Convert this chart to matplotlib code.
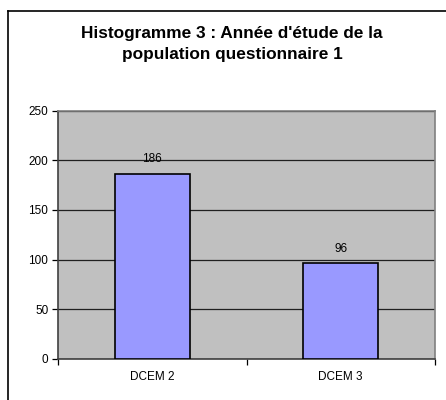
import matplotlib.pyplot as plt
from matplotlib.lines import Line2D

# data
categories = ["DCEM 2", "DCEM 3"]
values = [186, 96]
yticks = [0, 50, 100, 150, 200, 250]
title = "Histogramme 3 : Année d'étude de la\npopulation questionnaire 1"

plt.rcParams['font.family'] = ['Liberation Sans', 'DejaVu Sans']

fig = plt.figure(figsize=(4.46, 4.0), dpi=100)

# outer chart frame (only left and top edges are inside the image)
fx, fy = 8 / 446, (400 - 11) / 400
fig.lines.append(Line2D([fx, fx], [0, fy], transform=fig.transFigure,
                        color='black', linewidth=1.2))
fig.lines.append(Line2D([fx, 1], [fy, fy], transform=fig.transFigure,
                        color='black', linewidth=1.2))

fig.text(0.52, (400 - 44) / 400, title, ha='center', va='center',
         fontsize=12.4, fontweight='bold', linespacing=1.5)

ax = fig.add_axes([58 / 446, 41.3 / 400, 377 / 446, 248 / 400])
ax.set_facecolor('#C0C0C0')

x = range(len(categories))
ax.bar(x, values, width=0.4, color='#9999FF', edgecolor='black',
       linewidth=1.2, zorder=3)
for xi, v in zip(x, values):
    ax.text(xi, v + 15, str(v), ha='center', va='center', fontsize=8.5, zorder=4)

ax.set_xlim(-0.5, len(categories) - 0.5)
ax.set_ylim(0, 250)
ax.set_yticks(yticks)
ax.set_yticklabels([str(t) for t in yticks], fontsize=8.5)
ax.yaxis.grid(True, color='#202020', linewidth=0.9, zorder=1)
ax.set_axisbelow(True)

# category labels + boundary ticks
ax.set_xticks([-0.5, 0.5, 1.5])
ax.set_xticklabels([])
ax.set_xticks(list(x), minor=True)
ax.set_xticklabels(categories, minor=True, fontsize=8.5)
ax.tick_params(axis='x', which='minor', length=0, pad=9)
ax.tick_params(axis='x', which='major', length=4, direction='out', width=0.9)
ax.tick_params(axis='y', length=4, direction='out', width=0.9, pad=3)

ax.spines['left'].set_color('#404040')
ax.spines['left'].set_linewidth(1.2)
ax.spines['bottom'].set_color('#404040')
ax.spines['bottom'].set_linewidth(1.2)
ax.spines['top'].set_color('#808080')
ax.spines['top'].set_linewidth(1.2)
ax.spines['right'].set_color('#808080')
ax.spines['right'].set_linewidth(1.2)

fig.savefig('out.png', dpi=100)
